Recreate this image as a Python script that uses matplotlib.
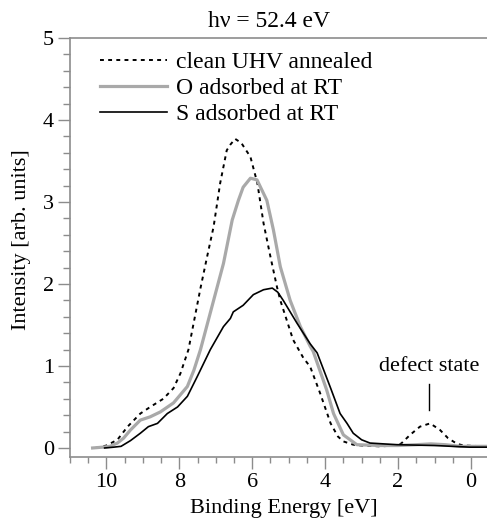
import matplotlib
matplotlib.use("Agg")
import matplotlib.pyplot as plt
from matplotlib.ticker import MultipleLocator

plt.rcParams['font.family'] = 'serif'
plt.rcParams['font.serif'] = ['Liberation Serif', 'DejaVu Serif']
plt.rcParams['font.size'] = 16
serif = 'Liberation Serif'

# clean UHV annealed surface (dotted)
clean_e = [10.3, 10.0, 9.7, 9.42, 9.07, 8.8, 8.44, 8.16, 7.97, 7.75, 7.42, 7.24,
           7.06, 6.88, 6.7, 6.6, 6.47, 6.3, 6.05, 5.86, 5.69, 5.5, 5.32, 5.23,
           4.88, 4.6, 4.41, 4.14, 3.85, 3.65, 3.5, 3.23, 3.0, 2.5, 2.0, 1.9,
           1.67, 1.4, 1.12, 0.85, 0.63, 0.38, 0.2, -0.44]
clean_i = [0.0, 0.03, 0.1, 0.26, 0.42, 0.5, 0.6, 0.73, 0.91, 1.2, 1.95, 2.33,
           2.7, 3.23, 3.63, 3.7, 3.77, 3.72, 3.55, 3.23, 2.74, 2.33, 1.96, 1.8,
           1.32, 1.1, 0.99, 0.67, 0.3, 0.14, 0.08, 0.04, 0.03, 0.02, 0.03, 0.06,
           0.16, 0.26, 0.3, 0.22, 0.12, 0.05, 0.03, 0.02]

# O adsorbed at RT (grey)
oxy_e = [10.38, 10.1, 9.9, 9.7, 9.53, 9.34, 9.07, 8.8, 8.52, 8.16, 7.78, 7.6,
         7.42, 7.06, 6.79, 6.55, 6.38, 6.25, 6.05, 5.87, 5.6, 5.42, 5.23, 4.96,
         4.68, 4.41, 4.33, 3.96, 3.77, 3.5, 3.13, 2.5, 2.0, 1.5, 1.1, 0.7, 0.3,
         -0.44]
oxy_i = [0.0, 0.01, 0.02, 0.06, 0.12, 0.22, 0.34, 0.38, 0.44, 0.55, 0.75, 0.95,
         1.2, 1.8, 2.25, 2.78, 3.02, 3.18, 3.29, 3.27, 3.02, 2.66, 2.21, 1.8,
         1.48, 1.24, 1.18, 0.71, 0.42, 0.16, 0.04, 0.03, 0.03, 0.04, 0.05, 0.04,
         0.02, 0.02]

# S adsorbed at RT (black)
sul_e = [10.05, 9.8, 9.6, 9.34, 9.07, 8.85, 8.6, 8.33, 8.05, 7.78, 7.51, 7.15,
         6.79, 6.6, 6.52, 6.25, 5.97, 5.69, 5.45, 5.3, 5.15, 4.77, 4.41, 4.22,
         3.85, 3.59, 3.4, 3.23, 3.0, 2.77, 2.03, 1.0, 0.03, -0.44]
sul_i = [0.0, 0.01, 0.02, 0.09, 0.18, 0.26, 0.3, 0.42, 0.5, 0.63, 0.87, 1.2,
         1.48, 1.58, 1.66, 1.74, 1.87, 1.93, 1.95, 1.9, 1.8, 1.52, 1.27, 1.16,
         0.73, 0.42, 0.3, 0.18, 0.1, 0.06, 0.04, 0.03, 0.01, 0.01]

defect_e = 1.15

fig = plt.figure(figsize=(4.87, 5.25), dpi=100)
W, H = 487, 525
ax = fig.add_axes([70 / W, (H - 457) / H, (487 - 70) / W, (457 - 38) / H])

ax.plot(clean_e, clean_i, color='black', lw=1.4, ls=(0, (2.0, 2.2)),
        label='clean UHV annealed')
ax.plot(oxy_e, oxy_i, color='#a9a9a9', lw=2.3, label='O adsorbed at RT')
ax.plot(sul_e, sul_i, color='black', lw=1.2, label='S adsorbed at RT')

ax.set_xlim(11.0, -0.44)
ax.set_ylim(-0.11, 5.0)
ax.xaxis.set_major_locator(MultipleLocator(2))
ax.xaxis.set_minor_locator(MultipleLocator(0.5))
ax.yaxis.set_major_locator(MultipleLocator(1))
ax.yaxis.set_minor_locator(MultipleLocator(0.2))

grey = '#8c8c8c'
for side in ['left', 'top', 'bottom']:
    ax.spines[side].set_color(grey)
    ax.spines[side].set_linewidth(1.2)
ax.spines['right'].set_visible(False)
ax.tick_params(which='both', direction='out', color=grey, width=1.0)
ax.tick_params(axis='y', which='major', length=8.5, pad=3)
ax.tick_params(axis='y', which='minor', length=5)
ax.tick_params(axis='x', which='major', length=8.5, pad=3)
ax.tick_params(axis='x', which='minor', length=4.5)
for lab in ax.get_xticklabels() + ax.get_yticklabels():
    lab.set_family(serif)

ax.text(defect_e, 0.99, 'defect state', ha='center', va='center', family=serif)
ax.plot([defect_e, defect_e], [0.46, 0.78], color='black', lw=1.0)

ax.legend(loc='upper left', bbox_to_anchor=(0.072, 0.968), frameon=False,
          borderpad=0, borderaxespad=0, handlelength=2.85, handletextpad=0.36,
          labelspacing=0.2, prop={'family': serif, 'size': 17})

fig.text(269 / W, 1 - 27 / H, 'h\u03bd = 52.4 eV', ha='center', va='baseline',
         family=serif, fontsize=17)
fig.text(22 / W, 1 - 240 / H, 'Intensity [arb. units]', rotation=90,
         ha='center', va='center', family=serif)
fig.text(284 / W, 1 - 508 / H, 'Binding Energy [eV]', ha='center', va='center',
         family=serif)

fig.savefig('out.png', dpi=100)
